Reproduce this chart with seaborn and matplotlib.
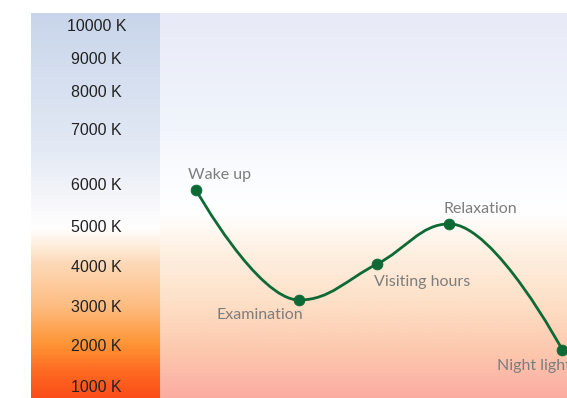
import numpy as np
import pandas as pd
import seaborn as sns
import matplotlib.pyplot as plt
from matplotlib.colors import LinearSegmentedColormap
from matplotlib.path import Path
from matplotlib.patches import PathPatch

# data
moments = ['Wake up', 'Examination', 'Visiting hours', 'Relaxation', 'Night light']
hours = [7.6, 12.15, 15.6, 18.8, 23.8]
kelvin = [5850, 3150, 4050, 5050, 1875]
tick_k = [1000, 2000, 3000, 4000, 5000, 6000, 7000, 8000, 9000, 10000]
tick_labels = ['%d K' % k for k in tick_k]

df = pd.DataFrame({'moment': moments, 'hour': hours, 'kelvin': kelvin})

# colour temperature axis is not linear: knots of the scale (K -> relative height)
scale_k = np.array([0, 1000, 2000, 3000, 4000, 5000, 6000, 7000, 8000, 9000, 10000, 11000])
scale_h = np.array([-28, 12, 53, 92, 132, 172, 214, 269, 307, 340, 373, 406])

def fwd(k):
    return np.interp(k, scale_k, scale_h)

def inv(h):
    return np.interp(h, scale_h, scale_k)

sns.set_theme(style='white')
plt.rcParams['font.family'] = ['Liberation Sans', 'DejaVu Sans']

fig = plt.figure(figsize=(5.67, 3.98), dpi=100)
H = 385 / 398
ax_k = fig.add_axes([31 / 567, 0, 129 / 567, H])
ax = fig.add_axes([160 / 567, 0, 407 / 567, H], sharey=ax_k)

for a in (ax_k, ax):
    a.set_yscale('function', functions=(fwd, inv))
ax.set_ylim(inv(0), inv(385))
ax.set_xlim(6, 24)

# background gradients (top -> bottom)
left_cm = LinearSegmentedColormap.from_list('left', [
    (0.0, '#c8d5ea'), (0.36, '#e4eaf5'), (0.5, '#f8f8fb'), (0.56, '#ffffff'),
    (0.655, '#fdd8b6'), (0.76, '#fdbd82'), (0.86, '#fe9535'), (0.93, '#fe6b22'),
    (1.0, '#fb4d18')])
main_cm = LinearSegmentedColormap.from_list('main', [
    (0.0, '#e8ebf7'), (0.28, '#f0f4fb'), (0.42, '#fbfcff'), (0.52, '#ffffff'),
    (0.62, '#fef0e2'), (0.745, '#fde1c8'), (0.875, '#fdc9ae'), (1.0, '#fbaca2')])
grad = np.linspace(0, 1, 256).reshape(-1, 1)
ax_k.imshow(grad, cmap=left_cm, aspect='auto', extent=[0, 1, 0, 1],
            transform=ax_k.transAxes, zorder=0, interpolation='bicubic')
ax.imshow(grad, cmap=main_cm, aspect='auto', extent=[0, 1, 0, 1],
          transform=ax.transAxes, zorder=0, interpolation='bicubic')

# smooth spline through the points (bezier, control points like a chart spline)
def spline_path(xs, ys, s=1.5):
    n = len(xs)
    lc = [None] * n
    rc = [None] * n
    d = s + 1
    for i in range(1, n - 1):
        x, y = xs[i], ys[i]
        lx, ly = xs[i - 1], ys[i - 1]
        nx, ny = xs[i + 1], ys[i + 1]
        lcx, lcy = (s * x + lx) / d, (s * y + ly) / d
        rcx, rcy = (s * x + nx) / d, (s * y + ny) / d
        corr = ((rcy - lcy) * (rcx - x)) / (rcx - lcx) + y - rcy
        lcy += corr
        rcy += corr
        if lcy > ly and lcy > y:
            lcy = max(ly, y); rcy = 2 * y - lcy
        elif lcy < ly and lcy < y:
            lcy = min(ly, y); rcy = 2 * y - lcy
        if rcy > ny and rcy > y:
            rcy = max(ny, y); lcy = 2 * y - rcy
        elif rcy < ny and rcy < y:
            rcy = min(ny, y); lcy = 2 * y - rcy
        lc[i] = (lcx, lcy)
        rc[i] = (rcx, rcy)
    verts = [(xs[0], ys[0])]
    codes = [Path.MOVETO]
    for i in range(1, n):
        c1 = rc[i - 1] or (xs[i - 1], ys[i - 1])
        c2 = lc[i] or (xs[i], ys[i])
        verts += [c1, c2, (xs[i], ys[i])]
        codes += [Path.CURVE4] * 3
    verts = np.array(verts)
    verts[:, 1] = inv(verts[:, 1])
    return Path(verts, codes)

green = '#0e6a35'
path = spline_path(np.array(hours, float), fwd(np.array(kelvin, float)))
ax.add_patch(PathPatch(path, fill=False, ec=green, lw=2.0, zorder=3, clip_on=False))
sns.scatterplot(data=df, x='hour', y='kelvin', ax=ax, color=green, s=60,
                edgecolor=green, zorder=4, clip_on=False, legend=False)

offsets = {
    'Wake up': (-6, 11, 'left'),
    'Examination': (3, -11, 'right'),
    'Visiting hours': (-2, -13, 'left'),
    'Relaxation': (-4, 11, 'left'),
    'Night light': (-47, -11.5, 'left'),
}
for m, h, k in zip(moments, hours, kelvin):
    dx, dy, ha = offsets[m]
    ax.annotate(m, (h, k), xytext=(dx, dy), textcoords='offset points',
                ha=ha, va='center', fontsize=11.5, color='#7d7d7d',
                family=['Lato', 'DejaVu Sans'], zorder=5, annotation_clip=False)

ax.set_xlabel('')
ax.set_ylabel('')
ax.set_xticks([])
ax.tick_params(left=False, labelleft=False)
ax_k.set_xticks([])
ax_k.set_yticks(tick_k)
ax_k.set_yticklabels(tick_labels)
ax_k.tick_params(axis='y', left=False, pad=-53, labelsize=11.5, labelcolor='#222222')
for lab in ax_k.get_yticklabels():
    lab.set_ha('center')
ax_k.yaxis.set_minor_locator(plt.NullLocator())
for a in (ax_k, ax):
    for sp in a.spines.values():
        sp.set_visible(False)

fig.savefig('out.png', dpi=100)
